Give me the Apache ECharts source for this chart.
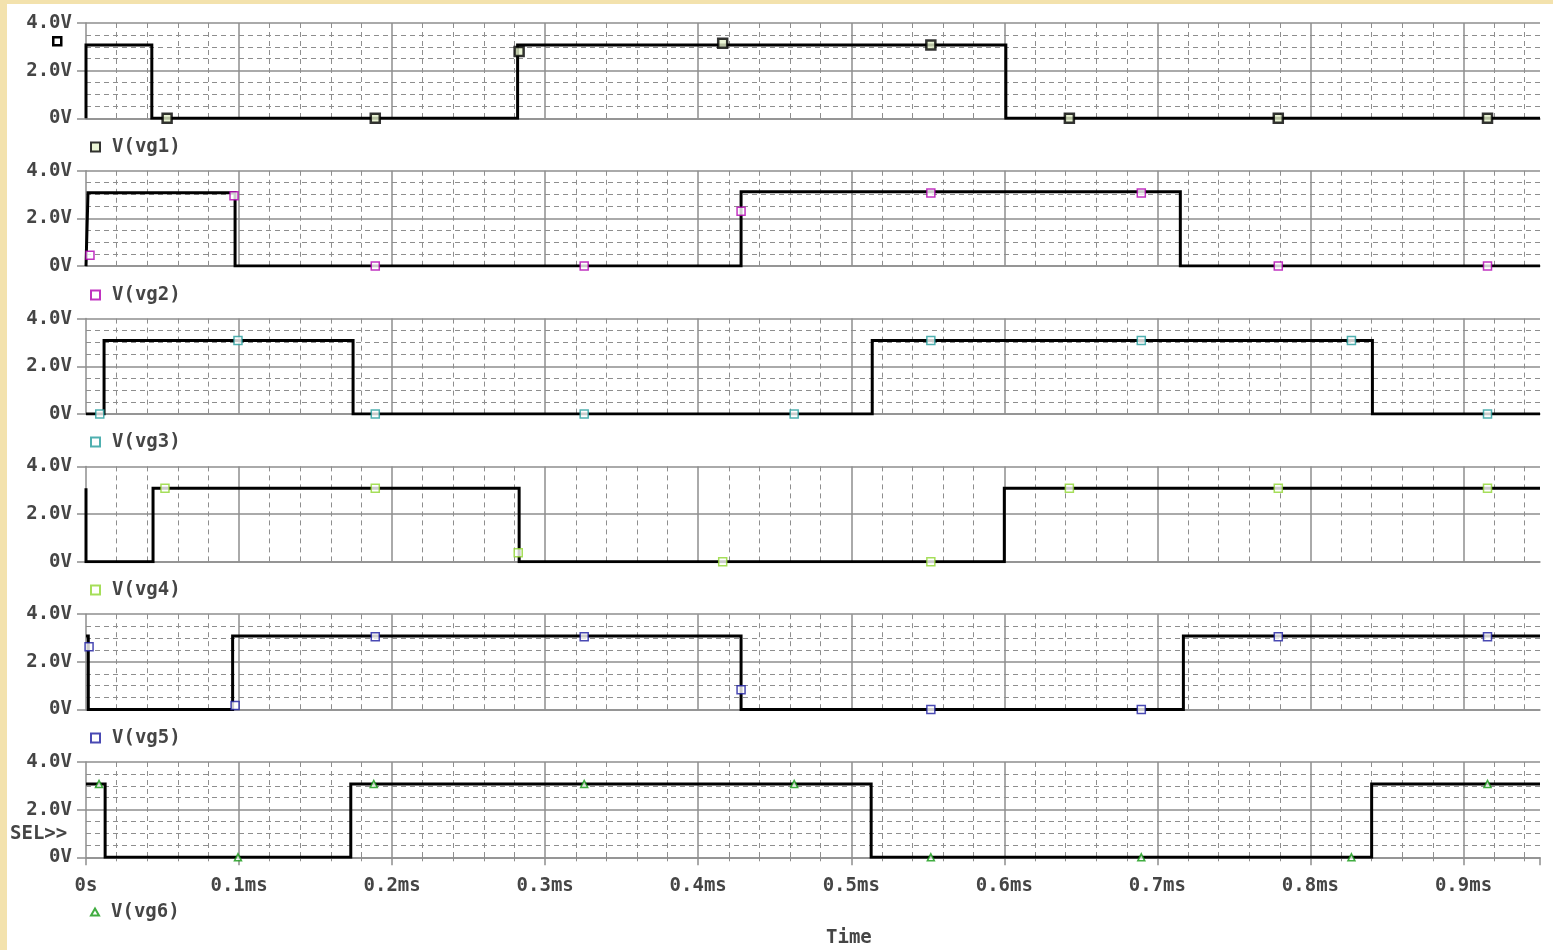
<!DOCTYPE html>
<html>
<head>
<meta charset="utf-8">
<script src="https://cdn.jsdelivr.net/npm/echarts@6/dist/echarts.min.js"></script>
<style>
html,body{margin:0;padding:0;background:#fff;}
#chart{width:1553px;height:950px;}
</style>
</head>
<body>
<div id="chart"></div>
<script>
// ---- data (time in ms, value in V) ----
const seriesNames = ['V(vg1)', 'V(vg2)', 'V(vg3)', 'V(vg4)', 'V(vg5)', 'V(vg6)'];
const xTickLabels = ['0s', '0.1ms', '0.2ms', '0.3ms', '0.4ms', '0.5ms', '0.6ms', '0.7ms', '0.8ms', '0.9ms'];
const yTickLabels = ['0V', '2.0V', '4.0V'];

const vg1 = [[0,0],[0,3.08],[0.043,3.08],[0.043,0],[0.282,0],[0.282,3.08],[0.601,3.08],[0.601,0],[0.95,0]];
const vg2 = [[0,0],[0.0013,0],[0.0013,3.08],[0.0974,3.08],[0.0974,0],[0.428,0],[0.428,3.12],[0.715,3.12],[0.715,0],[0.95,0]];
const vg3 = [[0,0],[0.0118,0],[0.0118,3.08],[0.1745,3.08],[0.1745,0],[0.5137,0],[0.5137,3.08],[0.8405,3.08],[0.8405,0],[0.95,0]];
const vg4 = [[0,3.08],[0,0],[0.0438,0],[0.0438,3.08],[0.283,3.08],[0.283,0],[0.600,0],[0.600,3.08],[0.95,3.08]];
const vg5 = [[0,3.08],[0.0015,3.08],[0.0015,0],[0.0958,0],[0.0958,3.08],[0.428,3.08],[0.428,0],[0.717,0],[0.717,3.08],[0.95,3.08]];
const vg6 = [[0,3.08],[0.0125,3.08],[0.0125,0],[0.173,0],[0.173,3.08],[0.513,3.08],[0.513,0],[0.840,0],[0.840,3.08],[0.95,3.08]];

const vg1Markers = [[0.053,0],[0.189,0],[0.283,2.8],[0.416,3.15],[0.552,3.08],[0.6425,0],[0.779,0],[0.9157,0]];
const vg2Markers = [[0.0026,0.46],[0.0967,2.95],[0.189,0],[0.3255,0],[0.428,2.3],[0.552,3.07],[0.6895,3.07],[0.779,0],[0.9157,0]];
const vg3Markers = [[0.009,0],[0.0993,3.08],[0.189,0],[0.3255,0],[0.4627,0],[0.552,3.08],[0.6895,3.08],[0.8268,3.08],[0.9157,0]];
const vg4Markers = [[0.0516,3.08],[0.189,3.08],[0.2824,0.38],[0.416,0],[0.552,0],[0.6425,3.08],[0.779,3.08],[0.9157,3.08]];
const vg5Markers = [[0.002,2.63],[0.0974,0.17],[0.189,3.05],[0.3255,3.05],[0.428,0.83],[0.552,0],[0.6895,0],[0.779,3.05],[0.9157,3.05]];
const vg6Markers = [[0.0085,3.08],[0.0993,0],[0.188,3.08],[0.3255,3.08],[0.4627,3.08],[0.552,0],[0.6895,0],[0.8268,0],[0.9157,3.08]];

const traces = [vg1, vg2, vg3, vg4, vg5, vg6];
const markers = [vg1Markers, vg2Markers, vg3Markers, vg4Markers, vg5Markers, vg6Markers];

// ---- styling ----
const markerColors = ['#000000', '#b000b0', '#239c9c', '#8fd630', '#1c1ca0', '#129912'];
const FONT = 'DejaVu Sans Mono';
const TXT = '#454545';
const GRIDC = '#8e8e8e';

const panelTop0 = 23, panelStep = 147.8, panelH = 95.3;
const legendTops = [132, 280, 427, 575, 723, 897];

const grids = [], xAxes = [], yAxes = [], series = [], legends = [];
for (let i = 0; i < 6; i++) {
  const last = i === 5;
  grids.push({left: 86, right: 13, top: panelTop0 + i * panelStep, height: panelH, containLabel: false});
  xAxes.push({
    type: 'value', gridIndex: i, min: 0, max: 0.95, interval: 0.1,
    axisLine: {show: true, onZero: false, lineStyle: {color: GRIDC, width: 1.5}},
    axisTick: {show: last, length: 8, inside: false, lineStyle: {color: GRIDC, width: 1.5}},
    minorTick: {show: last, splitNumber: 5, length: 4, lineStyle: {color: GRIDC}},
    axisLabel: {
      show: last, margin: 19, fontFamily: FONT, fontSize: 19, fontWeight: 'bold', color: TXT,
      formatter: function (v) {
        const k = Math.round(v * 10);
        return Math.abs(v * 10 - k) < 1e-6 && k < xTickLabels.length ? xTickLabels[k] : '';
      }
    },
    splitLine: {show: true, showMinLine: false, showMaxLine: false, lineStyle: {color: GRIDC, width: 1.5}},
    minorSplitLine: {show: true, lineStyle: {color: GRIDC, width: 1, type: [5, 4]}}
  });
  yAxes.push({
    type: 'value', gridIndex: i, min: 0, max: 4, interval: 2,
    axisLine: {show: true, lineStyle: {color: GRIDC, width: 1.5}},
    axisTick: {show: true, length: 9, inside: false, lineStyle: {color: GRIDC, width: 1.5}},
    minorTick: {show: false, splitNumber: 4},
    axisLabel: {
      margin: 14, fontFamily: FONT, fontSize: 19, fontWeight: 'bold', color: TXT,
      formatter: function (v) { return yTickLabels[Math.round(v / 2)]; }
    },
    splitLine: {show: true, lineStyle: {color: GRIDC, width: 1.5}},
    minorSplitLine: {show: i !== 3, lineStyle: {color: GRIDC, width: 1, type: [5, 4]}}
  });
  series.push({
    name: seriesNames[i] + ' trace', type: 'line', xAxisIndex: i, yAxisIndex: i,
    data: traces[i], showSymbol: false, symbol: 'none', z: 3,
    lineStyle: {color: '#000', width: 3, join: 'miter'}, silent: true
  });
  const isTri = i === 5;
  series.push({
    name: seriesNames[i], type: 'scatter', xAxisIndex: i, yAxisIndex: i,
    data: markers[i], z: 4,
    symbol: isTri ? 'triangle' : 'rect',
    symbolSize: i === 0 ? 9 : (isTri ? 7 : 8),
    itemStyle: {
      color: i === 0 ? '#e6f2cc' : '#ffffff',
      borderColor: markerColors[i],
      borderWidth: i === 0 ? 2.5 : 1.5
    },
    silent: true
  });
  legends.push({
    data: [seriesNames[i]], left: 85, top: legendTops[i],
    itemWidth: isTri ? 8 : 9, itemHeight: isTri ? 7 : 9, selectedMode: false,
    textStyle: {fontFamily: FONT, fontSize: 19, fontWeight: 'bold', color: TXT, padding: [0, 0, 0, 7], lineHeight: 20}
  });
}

const chart = echarts.init(document.getElementById('chart'), null, {renderer: 'canvas'});
chart.setOption({
  animation: false,
  backgroundColor: '#ffffff',
  grid: grids, xAxis: xAxes, yAxis: yAxes, series: series, legend: legends,
  graphic: [
    {type: 'rect', left: 0, top: 0, shape: {width: 7, height: 950}, style: {fill: '#f3e2ad'}, z: -10, silent: true},
    {type: 'rect', left: 0, top: 0, shape: {width: 1553, height: 4}, style: {fill: '#f3e2ad'}, z: -10, silent: true},
    {type: 'rect', left: 52, top: 36, shape: {width: 8, height: 8}, style: {fill: '#ffffff', stroke: '#000', lineWidth: 2.5}, silent: true},
    {type: 'text', left: 10, top: 825, style: {text: 'SEL>>', font: 'bold 19px "DejaVu Sans Mono"', fill: TXT}, silent: true},
    {type: 'text', left: 826, top: 929, style: {text: 'Time', font: 'bold 19px "DejaVu Sans Mono"', fill: TXT}, silent: true}
  ]
});
</script>
</body>
</html>
